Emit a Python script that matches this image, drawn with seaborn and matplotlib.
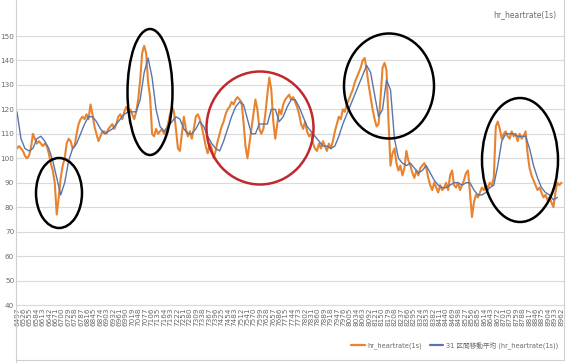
import numpy as np
import pandas as pd
import seaborn as sns
import matplotlib
matplotlib.use("Agg")
import matplotlib.pyplot as plt
from matplotlib.patches import Ellipse
from matplotlib.lines import Line2D

# ---- data ----
start_sec = 6497
hr_step = 9      # seconds between listed heart-rate samples
ma_step = 18     # seconds between listed moving-average samples

heartrate = [
    104, 105, 104, 103, 101, 100, 101, 104, 110, 108,
    106, 107, 106, 105, 106, 105, 102, 98, 95, 90,
    77, 84, 92, 97, 100, 106, 108, 107, 104, 105,
    110, 114, 116, 117, 116, 118, 116, 122, 118, 113,
    110, 107, 109, 111, 111, 110, 112, 113, 114, 112,
    114, 117, 118, 116, 119, 121, 119, 120, 118, 116,
    119, 124, 132, 143, 146, 143, 131, 125, 110, 109,
    112, 110, 111, 112, 110, 111, 114, 118, 121, 119,
    112, 104, 103, 110, 117, 112, 109, 111, 108, 112,
    117, 118, 116, 113, 109, 105, 102, 106, 104, 100,
    103, 107, 110, 113, 115, 118, 120, 121, 123, 122,
    124, 125, 124, 123, 115, 105, 100, 106, 112, 118,
    124, 120, 112, 110, 112, 118, 126, 133, 128, 115,
    108, 114, 120, 118, 122, 124, 125, 126, 124, 125,
    123, 121, 118, 114, 112, 115, 111, 109, 110, 106,
    104, 103, 106, 104, 107, 105, 103, 106, 104, 107,
    111, 114, 117, 116, 120, 119, 122, 124, 126, 128,
    131, 133, 135, 137, 140, 141, 136, 130, 125, 120,
    116, 113, 114, 125, 137, 139, 136, 115, 97, 102,
    104, 98, 95, 97, 93, 96, 103, 99, 97, 94,
    92, 95, 93, 96, 97, 98, 96, 92, 89, 87,
    90, 88, 86, 89, 87, 88, 90, 87, 93, 95,
    89, 88, 90, 87, 89, 91, 94, 95, 86, 76,
    82, 85, 84, 86, 88, 87, 89, 88, 90, 89,
    92, 113, 115, 112, 108, 110, 111, 109, 108, 111,
    109, 110, 107, 110, 108, 109, 111, 102, 96, 93,
    91, 89, 87, 88, 86, 84, 85, 83, 84, 82,
    80, 86, 90, 89, 90,
]

moving_avg = [
    119, 108, 104, 103, 104, 108, 109, 107, 104, 99,
    92, 85, 90, 99, 104, 106, 110, 114, 117, 117,
    115, 112, 110, 111, 112, 114, 116, 118, 119, 119,
    119, 124, 135, 141, 133, 120, 113, 111, 113, 115,
    117, 116, 112, 110, 110, 112, 115, 113, 109, 106,
    104, 103, 107, 112, 117, 121, 123, 122, 116, 110,
    110, 114, 114, 114, 120, 120, 115, 117, 121, 124,
    124, 121, 117, 113, 111, 109, 107, 105, 105, 104,
    105, 109, 114, 118, 122, 126, 130, 134, 138, 135,
    126, 117, 120, 132, 128, 108, 100, 98, 97, 98,
    96, 94, 95, 97, 94, 91, 89, 88, 88, 89,
    90, 90, 89, 90, 90, 87, 85, 85, 86, 88,
    89, 97, 107, 110, 110, 110, 109, 109, 109, 104,
    97, 92, 88, 86, 85, 83, 84,
]

tick_step = 29
n_ticks = 86
y_ticks = [40, 50, 60, 70, 80, 90, 100, 110, 120, 130, 140, 150]

title_text = "hr_heartrate(1s)"
label_hr = "hr_heartrate(1s)"
label_ma = "31 区間移動平均 (hr_heartrate(1s))"

df_hr = pd.DataFrame({"sec": start_sec + hr_step * np.arange(len(heartrate)),
                      "value": heartrate})
df_ma = pd.DataFrame({"sec": start_sec + ma_step * np.arange(len(moving_avg)),
                      "value": moving_avg})

# ---- style ----
sns.set_style("white")
plt.rcParams["font.family"] = ["DejaVu Sans", "Noto Sans CJK JP"]

W, H = 567, 363
fig = plt.figure(figsize=(W / 100, H / 100), dpi=100)
ax = fig.add_axes([17 / W, 1 - 305 / H, (564 - 17) / W, (305 - 36) / H])

orange = "#E8832F"
blue = "#5875AE"
grid_c = "#DADADA"
text_c = "#6A6A6A"

sns.lineplot(data=df_hr, x="sec", y="value", ax=ax, color=orange, lw=1.5,
             label=label_hr, legend=False, zorder=3)
sns.lineplot(data=df_ma, x="sec", y="value", ax=ax, color=blue, lw=1.0,
             label=label_ma, legend=False, zorder=4)

ax.set_xlim(start_sec, 8975)
ax.set_ylim(40, 150)
ax.set_yticks(y_ticks)
ax.set_yticklabels([str(v) for v in y_ticks], fontsize=5.2, color=text_c)
xt = [start_sec + tick_step * k for k in range(n_ticks)]
ax.set_xticks(xt)
ax.set_xticklabels([str(v) for v in xt], rotation=90, fontsize=5.2, color=text_c)
ax.tick_params(axis="both", length=0, pad=2)
ax.grid(axis="y", color=grid_c, lw=0.8)
ax.set_axisbelow(True)
ax.set_xlabel("")
ax.set_ylabel("")
for s in ["top", "right", "left"]:
    ax.spines[s].set_visible(False)
ax.spines["bottom"].set_color(grid_c)
ax.spines["bottom"].set_linewidth(0.8)

# title
fig.text(525 / W, 1 - 15 / H, title_text, fontsize=5.5, color=text_c,
         ha="center", va="center")

# chart border lines
for (x0, y0, x1, y1) in [(16, 0, 16, 363), (564, 0, 564, 360), (16, 360, 564, 360)]:
    fig.add_artist(Line2D([x0 / W, x1 / W], [1 - y0 / H, 1 - y1 / H],
                          color="#D0D0D0", lw=0.8, transform=fig.transFigure))

# hand-drawn ellipses
ellipses = [
    (59, 193, 46, 70, "black"),
    (150, 92, 45, 126, "black"),
    (260, 128, 107, 113, "#C0282E"),
    (389, 86, 90, 105, "black"),
    (520, 160, 76, 124, "black"),
]
for cx, cy, ew, eh, col in ellipses:
    fig.add_artist(Ellipse((cx / W, 1 - cy / H), ew / W, eh / H, fill=False,
                           edgecolor=col, lw=1.8, transform=fig.transFigure,
                           zorder=10))

# legend
handles, labels = ax.get_legend_handles_labels()
leg = fig.legend(handles, labels, loc="center right", bbox_to_anchor=(561 / W, 1 - 345 / H),
                 ncol=2, frameon=False, fontsize=4.8, handlelength=2.0,
                 columnspacing=1.2, handletextpad=0.4, borderaxespad=0)
for t in leg.get_texts():
    t.set_color(text_c)
for l in leg.get_lines():
    l.set_linewidth(1.6)

fig.savefig("out.png", dpi=100)
